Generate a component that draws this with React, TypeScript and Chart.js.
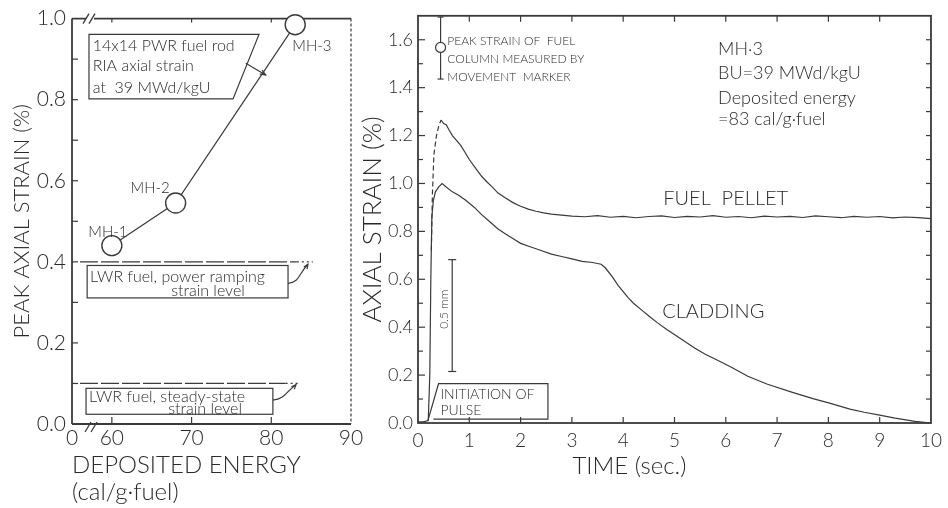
import React, { useEffect, useRef } from "react";
import { Chart, registerables } from "chart.js";
Chart.register(...registerables);

const W = 948;
const H = 508;
const FONT = "Lato, 'DejaVu Sans', sans-serif";
const WEIGHT = "300";
const INK = "#2b2b2b";
const LINE = "#3a3a3a";

// ---------- Left panel: peak axial strain vs deposited energy ----------
const rodNames = ["MH-1", "MH-2", "MH-3"];
const depositedEnergy = [60, 68, 83];
const peakAxialStrain = [0.44, 0.545, 0.985];
const energyTicks = [55, 60, 70, 80, 90];
const energyTickLabels = ["0", "60", "70", "80", "90"];
const leftStrainTicks = [0, 0.2, 0.4, 0.6, 0.8, 1.0];
const powerRampLevel = 0.4;
const steadyStateLevel = 0.1;

// ---------- Right panel: axial strain vs time (MH-3) ----------
const pelletTime = [0.26, 0.28, 0.31, 0.36, 0.41, 0.45, 0.5, 0.55, 0.6, 0.67, 0.75, 0.83, 0.93, 1.0, 1.1, 1.24, 1.35, 1.45, 1.56, 1.7, 1.85, 2.0, 2.15, 2.3, 2.45, 2.6, 2.8, 3.0, 3.25, 3.5, 3.75, 4.0, 4.25, 4.5, 4.75, 5.0, 5.25, 5.5, 5.75, 6.0, 6.25, 6.5, 6.75, 7.0, 7.25, 7.5, 7.75, 8.0, 8.25, 8.5, 8.75, 9.0, 9.25, 9.5, 9.75, 10.0];
const pelletStrain = [0.72, 0.95, 1.12, 1.2, 1.245, 1.265, 1.25, 1.245, 1.225, 1.2, 1.18, 1.16, 1.125, 1.1, 1.07, 1.03, 1.005, 0.985, 0.96, 0.94, 0.92, 0.905, 0.893, 0.884, 0.877, 0.872, 0.868, 0.864, 0.861, 0.866, 0.859, 0.863, 0.857, 0.862, 0.865, 0.858, 0.863, 0.86, 0.866, 0.859, 0.862, 0.857, 0.864, 0.86, 0.863, 0.858, 0.865, 0.861, 0.857, 0.863, 0.859, 0.862, 0.856, 0.86, 0.857, 0.853];
const pelletDashEnd = 0.45;
const claddingTime = [0, 0.1, 0.2, 0.23, 0.25, 0.27, 0.3, 0.34, 0.4, 0.47, 0.55, 0.67, 0.8, 0.93, 1.1, 1.24, 1.4, 1.56, 1.7, 1.88, 2.0, 2.2, 2.4, 2.6, 2.8, 3.0, 3.2, 3.4, 3.57, 3.65, 3.79, 3.9, 4.0, 4.1, 4.2, 4.38, 4.5, 4.67, 4.85, 5.1, 5.4, 5.6, 5.84, 6.1, 6.43, 6.8, 7.3, 7.7, 8.04, 8.42, 8.7, 9.0, 9.3, 9.69, 10.0];
const claddingStrain = [0.005, 0.005, 0.01, 0.2, 0.6, 0.86, 0.93, 0.965, 0.985, 1.0, 0.985, 0.965, 0.95, 0.93, 0.9, 0.87, 0.84, 0.81, 0.79, 0.766, 0.75, 0.735, 0.72, 0.705, 0.695, 0.685, 0.675, 0.67, 0.663, 0.648, 0.61, 0.575, 0.548, 0.522, 0.5, 0.468, 0.447, 0.418, 0.39, 0.355, 0.312, 0.287, 0.262, 0.234, 0.195, 0.163, 0.128, 0.102, 0.082, 0.058, 0.045, 0.033, 0.02, 0.007, 0.0];
const timeTicks = [0, 1, 2, 3, 4, 5, 6, 7, 8, 9, 10];
const rightStrainTicks = [0, 0.2, 0.4, 0.6, 0.8, 1.0, 1.2, 1.4, 1.6];
const markerTime = 0.44;
const markerPeak = 1.568;
const markerLow = 1.436;
const markerHigh = 1.695;

function seg(ctx: CanvasRenderingContext2D, x1: number, y1: number, x2: number, y2: number) {
  ctx.beginPath();
  ctx.moveTo(x1, y1);
  ctx.lineTo(x2, y2);
  ctx.stroke();
}
function arrowHead(ctx: CanvasRenderingContext2D, fx: number, fy: number, tx: number, ty: number, size = 6) {
  const a = Math.atan2(ty - fy, tx - fx);
  ctx.beginPath();
  ctx.moveTo(tx - size * Math.cos(a - 0.4), ty - size * Math.sin(a - 0.4));
  ctx.lineTo(tx, ty);
  ctx.lineTo(tx - size * Math.cos(a + 0.4), ty - size * Math.sin(a + 0.4));
  ctx.stroke();
}
function txt(ctx: CanvasRenderingContext2D, s: string, x: number, y: number, size: number, align: CanvasTextAlign = "left") {
  ctx.font = `${WEIGHT} ${size}px ${FONT}`;
  ctx.fillStyle = INK;
  ctx.textAlign = align;
  ctx.textBaseline = "middle";
  ctx.fillText(s, x, y);
}

const leftDeco = {
  id: "leftDeco",
  beforeDatasetsDraw(chart: any) {
    const ctx = chart.ctx as CanvasRenderingContext2D;
    const { left, right, top, bottom } = chart.chartArea;
    const X = (v: number) => chart.scales.x.getPixelForValue(v);
    const Y = (v: number) => chart.scales.y.getPixelForValue(v);
    ctx.save();
    ctx.strokeStyle = LINE;
    ctx.lineWidth = 1.8;
    seg(ctx, left, top, left, bottom);
    seg(ctx, left, bottom, right, bottom);
    seg(ctx, left, top, right, top);
    ctx.lineWidth = 1.2;
    ctx.setLineDash([3, 2]);
    seg(ctx, right, top, right, bottom);
    ctx.setLineDash([]);
    ctx.lineWidth = 1.2;
    for (let v = 0.1; v < 0.95; v += 0.1) {
      const y = Y(v);
      seg(ctx, left, y, left + 6, y);
    }
    [60, 70, 80].forEach((v) => {
      seg(ctx, X(v), bottom, X(v), bottom - 7);
      seg(ctx, X(v), top, X(v), top + 4);
    });
    ctx.fillStyle = "#fff";
    ctx.fillRect(left + 14, top - 2, 8, 4);
    ctx.lineWidth = 1.3;
    seg(ctx, left + 11, top + 5, left + 17, top - 5);
    seg(ctx, left + 17, top + 5, left + 23, top - 5);
    seg(ctx, left + 13, bottom + 8, left + 19, bottom - 2);
    seg(ctx, left + 19, bottom + 8, left + 25, bottom - 2);
    ctx.restore();
  },
  afterDatasetsDraw(chart: any) {
    const ctx = chart.ctx as CanvasRenderingContext2D;
    const X = (v: number) => chart.scales.x.getPixelForValue(v);
    const Y = (v: number) => chart.scales.y.getPixelForValue(v);
    ctx.save();
    ctx.strokeStyle = LINE;
    ctx.lineWidth = 1.2;
    ctx.beginPath();
    ctx.moveTo(X(57.13), Y(0.961));
    ctx.lineTo(X(78.46), Y(0.961));
    ctx.lineTo(X(75.2), Y(0.802));
    ctx.lineTo(X(57.13), Y(0.802));
    ctx.closePath();
    ctx.stroke();
    txt(ctx, "14x14 PWR fuel rod", X(57.6), Y(0.933), 16);
    txt(ctx, "RIA axial strain", X(57.6), Y(0.883), 16);
    txt(ctx, "at  39 MWd/kgU", X(57.6), Y(0.829), 16);
    seg(ctx, X(76.8), Y(0.89), X(79.3), Y(0.861));
    arrowHead(ctx, X(76.8), Y(0.89), X(79.3), Y(0.861), 6);
    txt(ctx, rodNames[0], X(59.5), Y(0.474), 15, "center");
    txt(ctx, rodNames[1], X(64.8), Y(0.582), 15, "center");
    txt(ctx, rodNames[2], X(85.1), Y(0.932), 15, "center");
    ctx.setLineDash([18, 3]);
    seg(ctx, X(56.0), Y(powerRampLevel), X(83.2), Y(powerRampLevel));
    seg(ctx, X(56.0), Y(steadyStateLevel), X(81.8), Y(steadyStateLevel));
    ctx.setLineDash([2, 3]);
    seg(ctx, X(83.2), Y(powerRampLevel), X(85.2), Y(powerRampLevel));
    seg(ctx, X(81.8), Y(steadyStateLevel), X(83.6), Y(steadyStateLevel));
    ctx.setLineDash([]);
    ctx.strokeRect(X(56.9), Y(0.391), X(82.1) - X(56.9), Y(0.311) - Y(0.391));
    txt(ctx, "LWR fuel, power ramping", X(57.26), Y(0.364), 16);
    txt(ctx, "strain level", X(72.06), Y(0.328), 16, "center");
    ctx.strokeRect(X(56.76), Y(0.088), X(80.2) - X(56.76), Y(0.024) - Y(0.088));
    txt(ctx, "LWR fuel, steady-state", X(57.13), Y(0.066), 16);
    txt(ctx, "strain level", X(71.7), Y(0.037), 16, "center");
    ctx.beginPath();
    ctx.moveTo(X(82.1), Y(0.347));
    ctx.bezierCurveTo(X(83.6), Y(0.35), X(83.4), Y(0.37), X(84.6), Y(0.394));
    ctx.stroke();
    arrowHead(ctx, X(83.8), Y(0.37), X(84.6), Y(0.394), 5);
    ctx.beginPath();
    ctx.moveTo(X(80.2), Y(0.059));
    ctx.bezierCurveTo(X(81.8), Y(0.062), X(81.8), Y(0.08), X(83.1), Y(0.097));
    ctx.stroke();
    arrowHead(ctx, X(82.3), Y(0.08), X(83.1), Y(0.097), 5);
    ctx.restore();
  },
};

const rightDeco = {
  id: "rightDeco",
  beforeDatasetsDraw(chart: any) {
    const ctx = chart.ctx as CanvasRenderingContext2D;
    const { left, right, top, bottom } = chart.chartArea;
    const X = (v: number) => chart.scales.x.getPixelForValue(v);
    const Y = (v: number) => chart.scales.y.getPixelForValue(v);
    ctx.save();
    ctx.strokeStyle = LINE;
    ctx.lineWidth = 1.8;
    ctx.strokeRect(left, top, right - left, bottom - top);
    ctx.lineWidth = 1.2;
    for (let i = 1; i <= 16; i++) {
      const y = Y(i / 10);
      seg(ctx, left, y, left + (i % 2 === 0 ? 7 : 5), y);
      seg(ctx, right, y, right - 5, y);
    }
    timeTicks.forEach((t) => {
      if (t === 0 || t === 10) return;
      seg(ctx, X(t), bottom, X(t), bottom - 6);
      seg(ctx, X(t), top, X(t), top + 6);
    });
    ctx.restore();
  },
  afterDatasetsDraw(chart: any) {
    const ctx = chart.ctx as CanvasRenderingContext2D;
    const { bottom } = chart.chartArea;
    const X = (v: number) => chart.scales.x.getPixelForValue(v);
    const Y = (v: number) => chart.scales.y.getPixelForValue(v);
    ctx.save();
    ctx.strokeStyle = LINE;
    ctx.lineWidth = 1.2;
    const mx = X(markerTime);
    seg(ctx, mx, Y(markerLow), mx, Y(markerHigh));
    seg(ctx, mx - 3, Y(markerLow), mx + 3, Y(markerLow));
    seg(ctx, mx - 3, Y(markerHigh), mx + 3, Y(markerHigh));
    ctx.beginPath();
    ctx.arc(mx, Y(markerPeak), 5, 0, Math.PI * 2);
    ctx.fillStyle = "#fff";
    ctx.fill();
    ctx.stroke();
    txt(ctx, "PEAK STRAIN OF  FUEL", X(0.571), Y(1.595), 12);
    txt(ctx, "COLUMN MEASURED BY", X(0.571), Y(1.521), 12);
    txt(ctx, "MOVEMENT  MARKER", X(0.571), Y(1.443), 12);
    txt(ctx, "MH·3", X(5.85), Y(1.56), 18);
    txt(ctx, "BU=39 MWd/kgU", X(5.85), Y(1.46), 18);
    txt(ctx, "Deposited energy", X(5.85), Y(1.355), 18);
    txt(ctx, "=83 cal/g·fuel", X(5.85), Y(1.268), 18);
    txt(ctx, "FUEL  PELLET", X(4.78), Y(0.935), 20);
    txt(ctx, "CLADDING", X(4.76), Y(0.464), 20);
    const sx = X(0.667);
    seg(ctx, sx, Y(0.682), sx, Y(0.215));
    seg(ctx, sx - 4, Y(0.682), sx + 4, Y(0.682));
    seg(ctx, sx - 4, Y(0.215), sx + 4, Y(0.215));
    ctx.save();
    ctx.translate(X(0.514), Y(0.475));
    ctx.rotate(-Math.PI / 2);
    txt(ctx, "0.5 mm", 0, 0, 12, "center");
    ctx.restore();
    ctx.beginPath();
    ctx.moveTo(X(0.19), Y(0.008));
    ctx.lineTo(X(0.4), Y(0.164));
    ctx.lineTo(X(2.533), Y(0.164));
    ctx.lineTo(X(2.533), Y(0.016));
    ctx.lineTo(X(0.3), Y(0.016));
    ctx.stroke();
    txt(ctx, "INITIATION OF", X(0.438), Y(0.119), 14);
    txt(ctx, "PULSE", X(0.438), Y(0.053), 14);
    txt(ctx, "TIME (sec.)", X(4.12), bottom + 43, 24, "center");
    ctx.restore();
  },
};

function tickFont(size: number) {
  return { family: FONT, size, weight: WEIGHT };
}

function leftConfig(): any {
  return {
    type: "line",
    data: {
      labels: rodNames,
      datasets: [
        {
          label: "Peak axial strain",
          data: depositedEnergy.map((x, i) => ({ x, y: peakAxialStrain[i] })),
          borderColor: LINE,
          borderWidth: 1.2,
          pointRadius: 10,
          pointBackgroundColor: "#fff",
          pointBorderColor: LINE,
          pointBorderWidth: 1.4,
          tension: 0,
          clip: false,
        },
      ],
    },
    options: {
      animation: false,
      responsive: false,
      devicePixelRatio: 1,
      layout: { padding: { left: 0, top: 15, right: W - 351, bottom: 0 } },
      plugins: { legend: { display: false }, tooltip: { enabled: false } },
      scales: {
        x: {
          type: "linear",
          min: 55,
          max: 90,
          afterBuildTicks: (s: any) => {
            s.ticks = energyTicks.map((v) => ({ value: v }));
          },
          ticks: {
            autoSkip: false,
            maxRotation: 0,
            padding: 2,
            color: INK,
            font: tickFont(21),
            callback: (v: number) => {
              const i = energyTicks.indexOf(v);
              return i >= 0 ? energyTickLabels[i] : "";
            },
          },
          grid: { display: false, drawTicks: false },
          border: { display: false },
          title: {
            display: true,
            text: ["DEPOSITED ENERGY", "(cal/g·fuel)"],
            align: "start",
            color: INK,
            font: { family: FONT, size: 24, weight: WEIGHT, lineHeight: 1.1 },
            padding: { top: 0, bottom: 3 },
          },
          afterFit: (s: any) => {
            s.height = 84;
          },
        },
        y: {
          min: 0,
          max: 1.0,
          afterBuildTicks: (s: any) => {
            s.ticks = leftStrainTicks.map((v) => ({ value: v }));
          },
          ticks: {
            padding: 6,
            color: INK,
            font: tickFont(21),
            callback: (v: number) => Number(v).toFixed(1),
          },
          grid: { display: false, drawTicks: false },
          border: { display: false },
          title: {
            display: true,
            text: "PEAK AXIAL STRAIN (%)",
            color: INK,
            font: { family: FONT, size: 22, weight: WEIGHT, lineHeight: 1.1 },
            padding: { top: 10, bottom: 0 },
          },
          afterFit: (s: any) => {
            s.width = 72;
          },
        },
      },
    },
    plugins: [leftDeco],
  };
}

function rightConfig(): any {
  return {
    type: "line",
    data: {
      datasets: [
        {
          label: "Fuel pellet",
          data: pelletTime.map((x, i) => ({ x, y: pelletStrain[i] })),
          borderColor: LINE,
          borderWidth: 1.2,
          pointRadius: 0,
          tension: 0,
          clip: false,
          segment: {
            borderDash: (c: any) => (c.p1.parsed.x <= pelletDashEnd ? [5, 3] : undefined),
          },
        },
        {
          label: "Cladding",
          data: claddingTime.map((x, i) => ({ x, y: claddingStrain[i] })),
          borderColor: LINE,
          borderWidth: 1.2,
          pointRadius: 0,
          tension: 0,
          clip: false,
        },
      ],
    },
    options: {
      animation: false,
      responsive: false,
      devicePixelRatio: 1,
      layout: { padding: { left: 358, top: 9, right: W - 943, bottom: 0 } },
      plugins: { legend: { display: false }, tooltip: { enabled: false } },
      scales: {
        x: {
          type: "linear",
          min: 0,
          max: 10,
          afterBuildTicks: (s: any) => {
            s.ticks = timeTicks.map((v) => ({ value: v }));
          },
          ticks: {
            autoSkip: false,
            maxRotation: 0,
            padding: 6,
            color: INK,
            font: tickFont(19),
            callback: (v: number) => String(v),
          },
          grid: { display: false, drawTicks: false },
          border: { display: false },
          afterFit: (s: any) => {
            s.height = H - 423;
          },
        },
        y: {
          min: 0,
          max: 1.7,
          afterBuildTicks: (s: any) => {
            s.ticks = rightStrainTicks.map((v) => ({ value: v }));
          },
          ticks: {
            padding: 5,
            color: INK,
            font: tickFont(18),
            callback: (v: number) => Number(v).toFixed(1),
          },
          grid: { display: false, drawTicks: false },
          border: { display: false },
          title: {
            display: true,
            text: "AXIAL STRAIN (%)",
            color: INK,
            font: { family: FONT, size: 26, weight: WEIGHT, lineHeight: 1.1 },
            padding: { top: 0, bottom: 0 },
          },
          afterFit: (s: any) => {
            s.width = 60;
          },
        },
      },
    },
    plugins: [rightDeco],
  };
}

export default function App() {
  const leftRef = useRef<HTMLCanvasElement>(null);
  const rightRef = useRef<HTMLCanvasElement>(null);
  useEffect(() => {
    const c1 = new Chart(leftRef.current as HTMLCanvasElement, leftConfig());
    const c2 = new Chart(rightRef.current as HTMLCanvasElement, rightConfig());
    return () => {
      c1.destroy();
      c2.destroy();
    };
  }, []);
  return (
    <div style={{ position: "absolute", left: 0, top: 0, width: W, height: H, background: "#fff" }}>
      <canvas ref={leftRef} width={W} height={H} style={{ position: "absolute", left: 0, top: 0 }} />
      <canvas ref={rightRef} width={W} height={H} style={{ position: "absolute", left: 0, top: 0 }} />
    </div>
  );
}
